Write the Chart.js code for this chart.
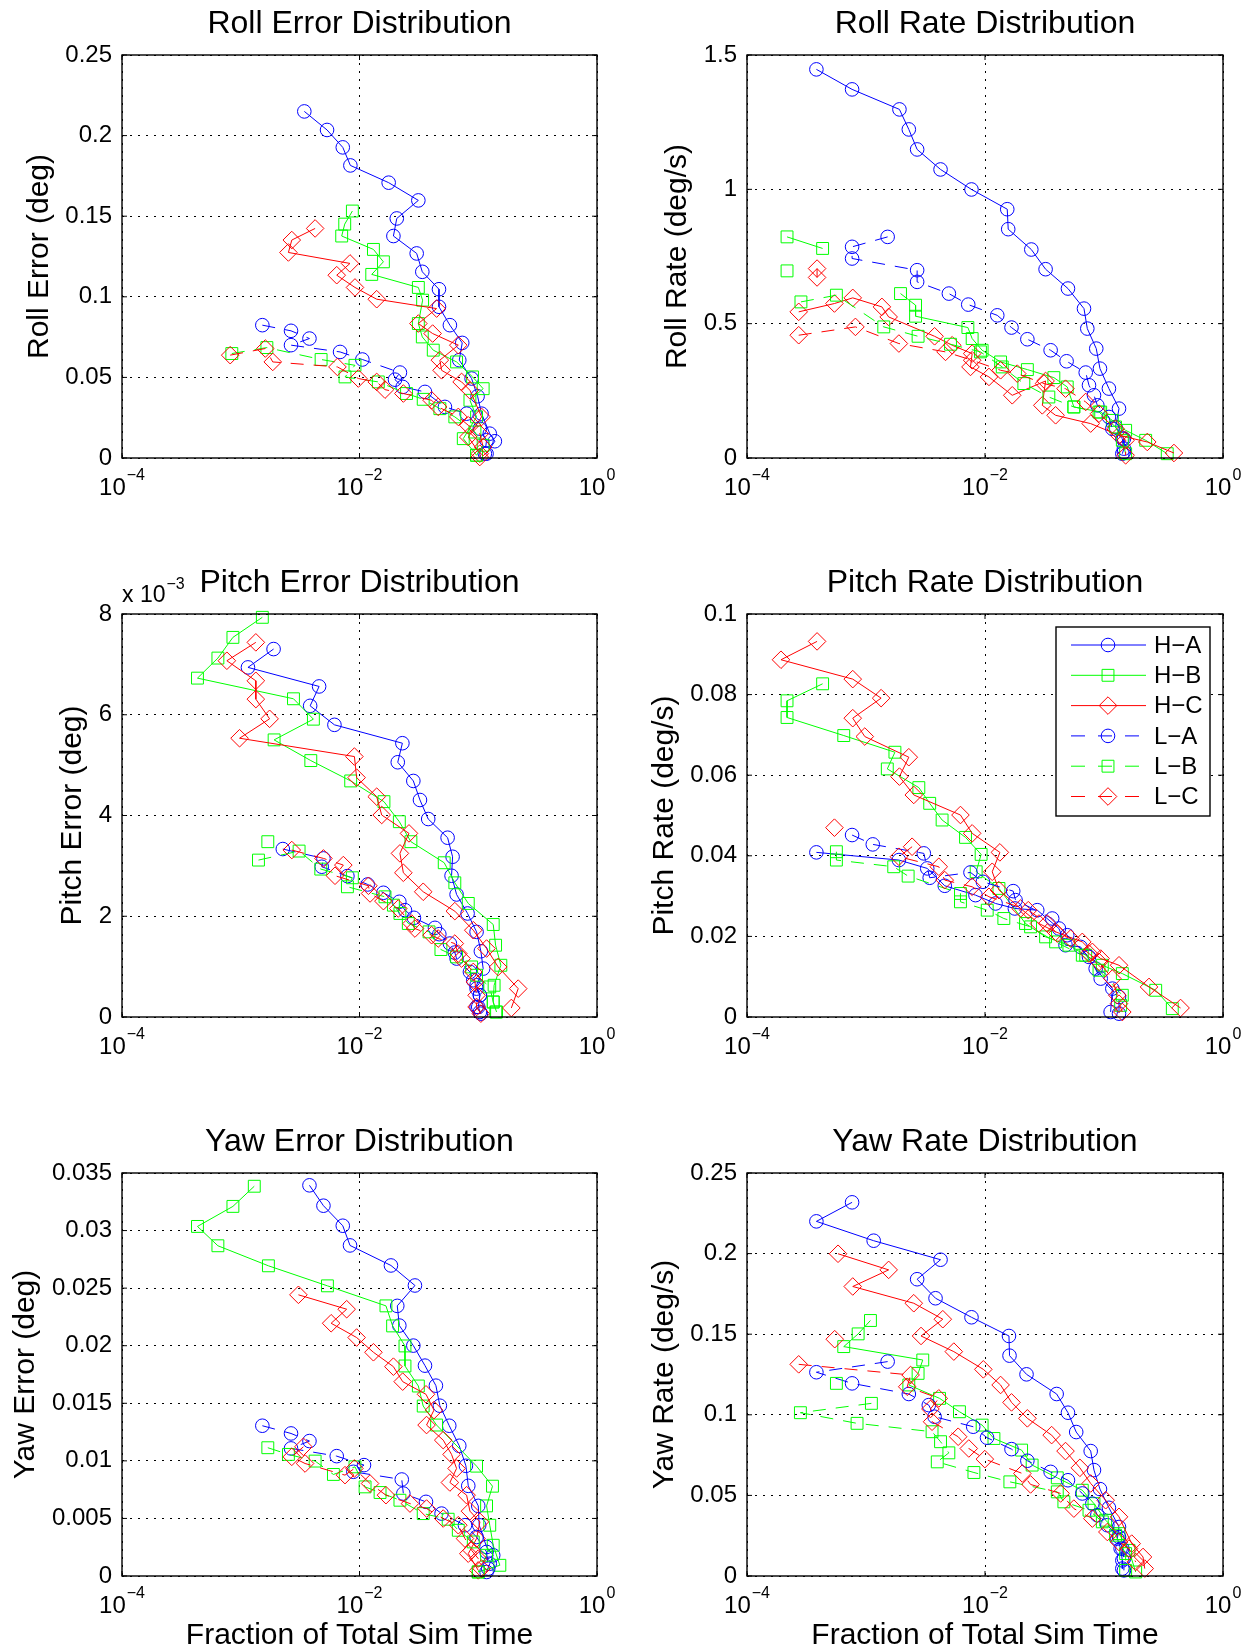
<!DOCTYPE html>
<html>
<head>
<meta charset="utf-8">
<script src="https://cdn.jsdelivr.net/npm/chart.js@4.4.1/dist/chart.umd.min.js"></script>
<style>
  body { margin: 0; background: #fff; }
  #wrap { position: relative; width: 1252px; height: 1652px; overflow: hidden; }
  #wrap canvas { position: absolute; }
</style>
</head>
<body>
<div id="wrap"></div>
<script>
// series: [fraction of sim time, value]; null = break in the line
const seriesNames = ['H\u2212A', 'H\u2212B', 'H\u2212C', 'L\u2212A', 'L\u2212B', 'L\u2212C'];
const xTicks = [1e-4, 1e-2, 1];

const rollErrTicks = [0, 0.05, 0.1, 0.15, 0.2, 0.25];
const rollRateTicks = [0, 0.5, 1, 1.5];
const pitchErrTicks = [0, 2, 4, 6, 8];          // x 10^-3
const pitchRateTicks = [0, 0.02, 0.04, 0.06, 0.08, 0.1];
const yawErrTicks = [0, 0.005, 0.01, 0.015, 0.02, 0.025, 0.03, 0.035];
const yawRateTicks = [0, 0.05, 0.1, 0.15, 0.2, 0.25];

// Roll error (deg)
const rollErrHA = [[3.43e-3,0.215],[5.33e-3,0.2035],[7.23e-3,0.1927],[8.38e-3,0.1815],[0.0176,0.1708],[0.0313,0.1598],[0.0206,0.1486],[0.0193,0.1377],[0.0303,0.1269],[0.0338,0.1155],[0.0467,0.1047],[0.0467,0.0938],[0.0577,0.0824],[0.0733,0.0714],[0.0692,0.0607],[0.0879,0.0493],[0.0987,0.0383],[0.1067,0.0275],[0.125,0.0151],[0.138,0.0104],[0.1175,0.0027]];
const rollErrHB = [[8.71e-3,0.1532],[7.51e-3,0.1451],[7.08e-3,0.1377],[0.0131,0.1294],[0.0159,0.1217],[0.01268,0.1139],[0.0313,0.1058],[0.034,0.0979],[0.0313,0.0834],[0.0338,0.0751],[0.0418,0.0669],[0.0657,0.0596],[0.0896,0.0503],[0.110,0.043],[0.0851,0.0358],[0.0968,0.0255],[0.0748,0.012],[0.0968,0.0017]];
const rollErrHC = [[4.23e-3,0.1424],[2.69e-3,0.1352],[2.52e-3,0.1275],[8.32e-3,0.1207],[6.43e-3,0.1134],[9.16e-3,0.1058],[0.01396,0.0985],[0.0446,0.0927],[0.0313,0.0834],[0.0413,0.0772],[0.0679,0.07],[0.0475,0.0607],[0.0491,0.0544],[0.0724,0.0472],[0.0851,0.042],[0.1067,0.0255],[0.0824,0.013],[0.103,0.0027]];
const rollErrLA = [[1.52e-3,0.0824],[2.65e-3,0.0789],[3.79e-3,0.0741],[2.65e-3,0.07],[6.86e-3,0.0658],[0.01057,0.0611],[0.0219,0.053],[0.0199,0.0486],[0.0231,0.0441],[0.0356,0.041],[0.0524,0.0317],[0.0798,0.0275],[0.103,0.0182],[0.1175,0.011],[0.1137,0.0027]];
const rollErrLB = [[8.41e-4,0.0648],[1.66e-3,0.0685],[4.75e-3,0.0611],[9.16e-3,0.0575],[7.55e-3,0.0503],[0.0144,0.0472],[0.0249,0.04],[0.0344,0.0364],[0.0475,0.0306],[0.0635,0.0255],[0.0938,0.0161],[0.110,0.0079],[0.0968,0.0017]];
const rollErrLC = [[8.15e-4,0.0638],[1.61e-3,0.0679],[1.86e-3,0.0596],[6.52e-3,0.0565],[9.78e-3,0.0493],[0.01396,0.0472],[0.0164,0.0424],[0.0234,0.04],[0.0405,0.0358],[0.046,0.0317],[0.0679,0.0255],[0.0824,0.0203],[0.103,0.0151],[0.110,0.0068],[0.103,0.0006]];

// Roll rate (deg/s)
const rollRateHA = [[3.83e-4,1.4465],[7.64e-4,1.372],[1.91e-3,1.2975],[2.29e-3,1.223],[2.69e-3,1.1485],[4.23e-3,1.074],[7.7e-3,0.9995],[0.01538,0.926],[0.01567,0.8517],[0.0245,0.776],[0.0323,0.7027],[0.0498,0.6307],[0.0679,0.556],[0.0724,0.4817],[0.0861,0.4072],[0.0925,0.3327],[0.110,0.2583],[0.1337,0.1838],[0.125,0.1155],[0.147,0.072],[0.147,0.0348],[0.1426,0.016]];
const rollRateHB = [[2.17e-4,0.823],[4.32e-4,0.78],null,[1.95e-3,0.612],[2.61e-3,0.5687],[2.61e-3,0.5277],[7.18e-3,0.4855],[7.8e-3,0.4445],[9.46e-3,0.401],[0.01352,0.3576],[0.0227,0.329],[0.0379,0.2992],[0.0491,0.2645],[0.0558,0.19],[0.0938,0.171],[0.1175,0.14],[0.152,0.103],[0.224,0.0658],[0.34,0.016]];
const rollRateHC = [[2.72e-4,0.544],[5.43e-4,0.575],[7.74e-4,0.596],[1.36e-3,0.5625],[1.55e-3,0.525],[3.77e-3,0.453],[5.3e-3,0.4197],[7.8e-3,0.3886],[7.55e-3,0.339],[0.0108,0.3017],[0.01694,0.2334],[0.0323,0.2868],[0.0303,0.196],[0.0392,0.159],[0.0773,0.128],[0.1337,0.0844],[0.231,0.0596],[0.387,0.0186]];
const rollRateLA = [[1.52e-3,0.823],[7.64e-4,0.786],[7.64e-4,0.7425],[2.69e-3,0.699],[2.69e-3,0.6556],[4.97e-3,0.612],[7.23e-3,0.571],[0.01268,0.531],[0.0167,0.4855],[0.0227,0.442],[0.0356,0.401],[0.0485,0.36],[0.0702,0.318],[0.0748,0.2707],[0.0824,0.2334],[0.0879,0.196],[0.110,0.1527],[0.1175,0.109],[0.1426,0.072],[0.147,0.0223]];
const rollRateLB = [[2.17e-4,0.6965],null,[2.84e-4,0.581],[5.64e-4,0.606],[1.41e-3,0.488],[2.74e-3,0.453],[5.13e-3,0.4234],[9.16e-3,0.395],[0.01396,0.339],[0.0212,0.277],[0.0344,0.227],[0.0558,0.19],[0.0908,0.171],[0.125,0.1155],[0.1426,0.0658],[0.152,0.016]];
const rollRateLC = [[3.88e-4,0.705],[3.88e-4,0.672],null,[2.72e-4,0.457],[8.15e-4,0.488],[1.89e-3,0.426],[4.66e-3,0.395],[7.8e-3,0.3638],[0.01352,0.3265],[0.01866,0.314],[0.0313,0.277],[0.0475,0.258],[0.0702,0.2086],[0.0908,0.165],[0.125,0.109],[0.152,0.0658],[0.152,0.01]];

// Pitch error (deg x 10^-3)
const pitchErrHA = [[1.89e-3,7.304],[1.15e-3,6.94],[4.57e-3,6.562],[3.84e-3,6.177],[6.15e-3,5.80],[0.02297,5.435],[0.0210,5.057],[0.0284,4.686],[0.0323,4.308],[0.0379,3.93],[0.0552,3.559],[0.0608,3.181],[0.0596,2.804],[0.0657,2.432],[0.0813,2.055],[0.0968,1.69],[0.1052,1.306],[0.110,0.961],[0.0968,0.63],[0.1033,0.431],[0.1,0.199],[0.1052,0.066]];
const pitchErrHB = [[1.52e-3,7.934],[8.59e-4,7.536],[6.42e-4,7.125],[4.32e-4,6.727],[2.78e-3,6.317],[4.09e-3,5.912],[1.91e-3,5.501],[3.89e-3,5.09],[8.43e-3,4.686],[0.01607,4.275],[0.02165,3.877],[0.0271,3.48],[0.0517,3.062],[0.0635,2.664],[0.0824,2.254],[0.1337,1.836],[0.140,1.425],[0.155,1.027],[0.136,0.63],[0.1337,0.298],[0.1426,0.0994]];
const pitchErrHC = [[1.34e-3,7.437],[7.64e-4,7.072],[1.34e-3,6.674],[1.34e-3,6.31],[1.75e-3,5.919],[9.77e-4,5.534],[9.06e-3,5.17],[9.46e-3,4.752],[0.01396,4.374],[0.01538,4.01],[0.0261,3.645],[0.0219,3.248],[0.0234,2.863],[0.0344,2.486],[0.0635,2.101],[0.0908,1.723],[0.1175,1.359],[0.147,0.994],[0.217,0.563],[0.19,0.179]];
const pitchErrLA = [[2.26e-3,3.334],[4.97e-3,3.148],[4.81e-3,2.983],[7.91e-3,2.797],[0.01172,2.631],[0.0159,2.466],[0.02165,2.287],[0.02415,2.121],[0.02874,1.969],[0.0432,1.77],[0.0470,1.644],[0.0577,1.458],[0.0635,1.279],[0.0657,1.16],[0.0851,0.895],[0.0908,0.729],[0.0968,0.563],[0.1033,0.431],[0.0968,0.199],[0.1033,0.0994]];
const pitchErrLB = [[1.69e-3,3.48],null,[1.41e-3,3.115],[3.10e-3,3.294],[4.72e-3,2.936],[8.71e-3,2.764],[7.91e-3,2.585],[0.0164,2.386],[0.0193,2.22],[0.0219,2.055],[0.02576,1.856],[0.0385,1.69],[0.0485,1.339],[0.0657,1.193],[0.0879,0.994],[0.0968,0.829],[0.125,0.597],[0.1337,0.298],[0.1406,0.0994]];
const pitchErrLC = [[2.69e-3,3.314],[4.97e-3,3.148],[7.31e-3,3.016],[6.22e-3,2.804],[0.01189,2.605],[0.01227,2.452],[0.0159,2.3],[0.0212,2.154],[0.02748,1.856],[0.0293,1.756],[0.0405,1.624],[0.046,1.558],[0.0635,1.458],[0.0679,1.259],[0.0724,1.16],[0.0908,0.895],[0.0938,0.696],[0.0968,0.431],[0.0968,0.199],[0.1052,0.066]];

// Pitch rate (deg/s)
const pitchRateHA = [[3.83e-4,0.04085],[1.89e-3,0.03894],[3.27e-3,0.03687],[4.59e-3,0.03256],[8.32e-3,0.03024],[0.01227,0.02817],[0.01782,0.02693],[0.02748,0.02651],[0.0418,0.02196],[0.0475,0.01781],[0.0635,0.0174],[0.0851,0.01201],[0.1175,0.00704],[0.1137,0.00124]];
const pitchRateHB = [[4.32e-4,0.08268],[2.17e-4,0.07846],[2.17e-4,0.07432],[6.5e-4,0.06984],[1.75e-3,0.0657],[1.51e-3,0.06156],[2.78e-3,0.05692],[3.43e-3,0.05302],[4.36e-3,0.04888],[6.86e-3,0.04457],[9.28e-3,0.04035],[8.43e-3,0.03604],[0.0131,0.0319],[0.0219,0.0232],[0.0323,0.01988],[0.0507,0.01781],[0.0702,0.01533],[0.0968,0.01284],[0.1426,0.01077],[0.272,0.00663],[0.375,0.00207]];
const pitchRateHC = [[3.88e-4,0.0932],[1.93e-4,0.08865],[7.74e-4,0.08384],[1.34e-3,0.07912],[7.74e-4,0.07415],[9.77e-4,0.06959],[2.29e-3,0.06446],[1.91e-3,0.05965],[2.52e-3,0.0551],[6.22e-3,0.05012],[7.8e-3,0.04557],[0.01334,0.04085],[0.0115,0.03604],[0.0131,0.03148],[0.0199,0.02693],[0.0284,0.0232],[0.0392,0.02113],[0.0657,0.01864],[0.0798,0.01616],[0.0938,0.0145],[0.1337,0.01284],[0.239,0.00746],[0.44,0.00224]];
const pitchRateLA = [[7.64e-4,0.04515],[1.14e-3,0.04283],[3.06e-3,0.0406],[3.43e-3,0.03455],[7.55e-3,0.03587],[9.6e-3,0.03355],[0.01726,0.03123],[0.01806,0.029],[0.0367,0.02444],[0.0491,0.0203],[0.0748,0.01491],[0.0938,0.00953],[0.1337,0.00497],[0.1337,0.00083]];
const pitchRateLB = [[5.64e-4,0.04101],[5.64e-4,0.03894],[1.71e-3,0.03728],[2.26e-3,0.03496],[6.22e-3,0.03065],[6.22e-3,0.02858],[0.01044,0.02651],[0.0144,0.02444],[0.02415,0.02237],[0.0392,0.01864],[0.0657,0.01533],[0.0908,0.0116],[0.1426,0.00539],[0.138,0.0029]];
const pitchRateLC = [[5.43e-4,0.04698],null,[2.44e-3,0.04225],[1.89e-3,0.03977],[4.09e-3,0.03728],[4.59e-3,0.03397],[7.8e-3,0.03231],[0.0108,0.02983],[0.0231,0.02651],[0.0333,0.0232],[0.0405,0.02071],[0.0524,0.01947],[0.0748,0.01574],[0.0908,0.01367],[0.1175,0.00953],[0.1294,0.00539],[0.1337,0.00331],[0.1426,0.00124]];

// Yaw error (deg)
const yawErrHA = [[3.79e-3,0.03393],[4.97e-3,0.03216],[7.23e-3,0.03042],[8.32e-3,0.02871],[0.0184,0.02697],[0.0293,0.02523],[0.0208,0.02346],[0.02165,0.02175],[0.0284,0.02001],[0.0356,0.01827],[0.044,0.01653],[0.0475,0.01479],[0.057,0.01305],[0.0692,0.01131],[0.0787,0.00957],[0.0824,0.00783],[0.1,0.00609],[0.1019,0.00441],[0.1175,0.00252],[0.1337,0.0018],[0.125,0.00107],[0.1175,0.00035]];
const yawErrHB = [[1.3e-3,0.03385],[8.59e-4,0.0321],[4.32e-4,0.03036],[6.42e-4,0.02868],[1.71e-3,0.02694],[5.37e-3,0.0252],[0.0167,0.02346],[0.019,0.02172],[0.02415,0.01998],[0.02415,0.01824],[0.0313,0.0165],[0.0344,0.01476],[0.0446,0.01311],[0.0968,0.00954],[0.1318,0.0078],[0.1175,0.00609],[0.125,0.00441],[0.1337,0.00267],[0.152,0.00093],[0.1,0.00035]];
const yawErrHC = [[3.06e-3,0.02442],[7.8e-3,0.02317],[5.77e-3,0.02195],[9.46e-3,0.02071],[0.0131,0.01943],[0.0193,0.01818],[0.0231,0.01688],[0.0363,0.01578],[0.0424,0.01441],[0.0367,0.01311],[0.0507,0.0118],[0.0596,0.01056],[0.0657,0.00934],[0.0577,0.00812],[0.0798,0.00702],[0.0851,0.00563],[0.1033,0.0047],[0.0968,0.00325],[0.0824,0.00194],[0.1,0.00049]];
const yawErrLA = [[1.52e-3,0.01305],[2.65e-3,0.01238],[3.79e-3,0.01172],[2.65e-3,0.01108],[6.43e-3,0.01041],[0.01091,0.00963],[8.88e-3,0.00905],[0.0227,0.00838],[0.0234,0.00716],[0.0363,0.00644],[0.0491,0.00542],[0.0773,0.00441],[0.0968,0.00339],[0.1175,0.00209],[0.1214,0.00064]];
const yawErrLB = [[1.69e-3,0.01114],[2.52e-3,0.01056],[4.23e-3,0.00998],[6.03e-3,0.00882],[9.16e-3,0.00948],[0.01114,0.00774],[0.0149,0.00725],[0.0219,0.00658],[0.0344,0.00542],[0.0558,0.00493],[0.0679,0.00397],[0.0908,0.00296],[0.1175,0.0018],[0.1,0.00035]];
const yawErrLC = [[3.37e-3,0.01122],[2.69e-3,0.01035],[3.48e-3,0.00977],[7.55e-3,0.00876],[9.06e-3,0.00934],[0.01227,0.00803],[0.0167,0.00702],[0.0266,0.00629],[0.0367,0.00586],[0.0507,0.00499],[0.0679,0.00441],[0.0773,0.00325],[0.0879,0.00223],[0.1,0.00151],[0.1067,0.00064]];

// Yaw rate (deg/s)
const yawRateHA = [[7.64e-4,0.2318],[3.83e-4,0.22],[1.16e-3,0.208],[4.23e-3,0.1962],[2.69e-3,0.1841],[3.84e-3,0.1723],[7.7e-3,0.1605],[0.0159,0.1489],[0.01607,0.1367],[0.02233,0.1251],[0.04,0.1129],[0.0498,0.1013],[0.0584,0.0893],[0.0773,0.0775],[0.0824,0.0657],[0.0925,0.0539],[0.110,0.0423],[0.1337,0.0304],[0.1294,0.0232],[0.138,0.017],[0.1426,0.0097],[0.1426,0.0046]];
const yawRateHB = [[1.09e-3,0.1585],[8.59e-4,0.1502],[6.5e-4,0.1423],[3.0e-3,0.134],[2.74e-3,0.1257],[2.29e-3,0.1185],[4.15e-3,0.1102],[6.1e-3,0.1019],[9.46e-3,0.0936],[0.01189,0.0853],[0.0203,0.0781],[0.0249,0.0688],[0.0405,0.0609],[0.0657,0.0532],[0.0824,0.0449],[0.1033,0.0346],[0.1337,0.0263],[0.162,0.0159],[0.1846,0.0025]];
const yawRateHC = [[5.82e-4,0.1999],[1.55e-3,0.1899],[7.74e-4,0.1796],[2.52e-3,0.1692],[4.42e-3,0.1593],[2.9e-3,0.1489],[5.47e-3,0.1392],[9.68e-3,0.1282],[0.01352,0.1185],[0.0167,0.1077],[0.0227,0.0978],[0.0363,0.0874],[0.0475,0.0775],[0.0627,0.0671],[0.0773,0.0574],[0.1033,0.047],[0.1337,0.0367],[0.171,0.0201],[0.2128,0.0118],[0.22,0.0046]];
const yawRateLA = [[1.52e-3,0.133],[3.83e-4,0.1264],[7.64e-4,0.1195],[2.29e-3,0.1129],[3.37e-3,0.106],[3.77e-3,0.0988],[7.96e-3,0.0926],[0.0104,0.0858],[0.0167,0.0787],[0.0227,0.0715],[0.0356,0.0646],[0.0498,0.0594],[0.0657,0.0512],[0.0798,0.0449],[0.0879,0.0377],[0.1067,0.0315],[0.1337,0.0242],[0.1426,0.017],[0.147,0.0108],[0.147,0.0035]];
const yawRateLB = [[5.64e-4,0.1195],null,[1.11e-3,0.1071],[2.81e-4,0.1013],[8.41e-4,0.0947],[3.59e-3,0.0895],[4.23e-3,0.0833],[4.97e-3,0.0764],[3.97e-3,0.0708],[8.07e-3,0.0642],[0.01618,0.0584],[0.0405,0.0522],[0.046,0.046],[0.0748,0.0408],[0.0968,0.0336],[0.125,0.0253],[0.152,0.0139],[0.152,0.0035]];
const yawRateLC = [[5.46e-4,0.1469],null,[2.72e-4,0.1313],[2.37e-3,0.1247],[2.22e-3,0.1174],[4.09e-3,0.1102],[3.48e-3,0.1036],[3.59e-3,0.0957],[5.95e-3,0.0864],[7.31e-3,0.0791],[9.97e-3,0.0725],[0.0206,0.0636],[0.02415,0.0568],[0.0432,0.0512],[0.0558,0.0418],[0.0798,0.0356],[0.1067,0.0273],[0.1337,0.0211],[0.162,0.017],[0.1846,0.0087]];

const panels = [
  { title: 'Roll Error Distribution', yLabel: 'Roll Error (deg)', yTicks: rollErrTicks, col: 0, row: 0, labelPad: 21.5,
    series: [rollErrHA, rollErrHB, rollErrHC, rollErrLA, rollErrLB, rollErrLC] },
  { title: 'Roll Rate Distribution', yLabel: 'Roll Rate (deg/s)', yTicks: rollRateTicks, col: 1, row: 0, labelPad: 34.5,
    series: [rollRateHA, rollRateHB, rollRateHC, rollRateLA, rollRateLB, rollRateLC] },
  { title: 'Pitch Error Distribution', yLabel: 'Pitch Error (deg)', yTicks: pitchErrTicks, col: 0, row: 1, labelPad: 54.5, expLabel: -3,
    series: [pitchErrHA, pitchErrHB, pitchErrHC, pitchErrLA, pitchErrLB, pitchErrLC] },
  { title: 'Pitch Rate Distribution', yLabel: 'Pitch Rate (deg/s)', yTicks: pitchRateTicks, col: 1, row: 1, labelPad: 22, legend: true,
    series: [pitchRateHA, pitchRateHB, pitchRateHC, pitchRateLA, pitchRateLB, pitchRateLC] },
  { title: 'Yaw Error Distribution', yLabel: 'Yaw Error (deg)', yTicks: yawErrTicks, col: 0, row: 2, labelPad: 8,
    series: [yawErrHA, yawErrHB, yawErrHC, yawErrLA, yawErrLB, yawErrLC] },
  { title: 'Yaw Rate Distribution', yLabel: 'Yaw Rate (deg/s)', yTicks: yawRateTicks, col: 1, row: 2, labelPad: 22,
    series: [yawRateHA, yawRateHB, yawRateHC, yawRateLA, yawRateLB, yawRateLC] }
];

const colors = ['#0000ff', '#00ff00', '#ff0000', '#0000ff', '#00ff00', '#ff0000'];
const markers = ['circle', 'rect', 'rectRot', 'circle', 'rect', 'rectRot'];
const markerRadius = { circle: 6.8, rect: 8.4, rectRot: 8.8 };
const dashPattern = [13, 10];
const fam = "'Liberation Sans', Arial, Helvetica, sans-serif";

Chart.defaults.font.family = fam;
Chart.defaults.color = '#000';

// plot area positions on the page
const colLeft = [122, 747], colWidth = [625, 627];
const rowTop = [55, 614, 1173];
const plotH = 403;

function toPoints(arr) {
  return arr.map((p, i) => p ? { x: p[0], y: p[1] } : { x: arr[i - 1][0], y: null });
}

function drawMarker(ctx, style, x, y) {
  const r = markerRadius[style];
  ctx.beginPath();
  if (style === 'circle') {
    ctx.arc(x, y, r, 0, Math.PI * 2);
  } else if (style === 'rect') {
    const h = r * Math.SQRT1_2;
    ctx.rect(x - h, y - h, 2 * h, 2 * h);
  } else {
    ctx.moveTo(x - r, y); ctx.lineTo(x, y - r); ctx.lineTo(x + r, y); ctx.lineTo(x, y + r); ctx.closePath();
  }
  ctx.stroke();
}

// box, inward ticks, 10^n labels, exponent note and legend
function framePlugin(panel) {
  return {
    id: 'frame',
    afterDraw(chart) {
      const ctx = chart.ctx, a = chart.chartArea;
      const xs = chart.scales.x, ys = chart.scales.y;
      ctx.save();
      ctx.strokeStyle = '#000';
      ctx.lineWidth = 1;
      ctx.beginPath();
      panel.yTicks.forEach(v => {
        const y = ys.getPixelForValue(v);
        ctx.moveTo(a.left, y); ctx.lineTo(a.left + 5, y);
        ctx.moveTo(a.right, y); ctx.lineTo(a.right - 5, y);
      });
      xTicks.forEach(v => {
        const x = xs.getPixelForValue(v);
        ctx.moveTo(x, a.bottom); ctx.lineTo(x, a.bottom - 5);
        ctx.moveTo(x, a.top); ctx.lineTo(x, a.top + 5);
      });
      ctx.stroke();
      ctx.lineWidth = 1.4;
      ctx.strokeRect(a.left, a.top, a.right - a.left, a.bottom - a.top);

      ctx.fillStyle = '#000';
      ctx.textAlign = 'left';
      ctx.textBaseline = 'alphabetic';
      xTicks.forEach(v => {
        const px = xs.getPixelForValue(v);
        const e = Math.round(Math.log10(v));
        const sup = e < 0 ? '\u2212' + (-e) : String(e);
        ctx.font = '24px ' + fam;
        const w1 = ctx.measureText('10').width;
        ctx.font = '16px ' + fam;
        const w2 = ctx.measureText(sup).width;
        const x0 = px - (w1 + w2 + 1) / 2;
        ctx.font = '24px ' + fam;
        ctx.fillText('10', x0, a.bottom + 37);
        ctx.font = '16px ' + fam;
        ctx.fillText(sup, x0 + w1 + 1, a.bottom + 22);
      });

      if (panel.expLabel) {
        ctx.font = '23px ' + fam;
        const w = ctx.measureText('x 10').width;
        ctx.fillText('x 10', a.left, a.top - 12);
        ctx.font = '16px ' + fam;
        ctx.fillText('\u2212' + (-panel.expLabel), a.left + w + 1, a.top - 25);
      }

      if (panel.legend) {
        const bw = 154, bh = 189;
        const bx = a.right - 13 - bw, by = a.top + 13;
        ctx.fillStyle = '#fff';
        ctx.fillRect(bx, by, bw, bh);
        ctx.lineWidth = 1.4;
        ctx.strokeRect(bx, by, bw, bh);
        ctx.lineWidth = 1;
        chart.data.datasets.forEach((ds, i) => {
          const cy = by + 18 + i * 30.3;
          ctx.strokeStyle = ds.borderColor;
          ctx.setLineDash(ds.borderDash.length ? [14, 13] : []);
          ctx.beginPath();
          ctx.moveTo(bx + 15, cy); ctx.lineTo(bx + 90, cy);
          ctx.stroke();
          ctx.setLineDash([]);
          drawMarker(ctx, ds.pointStyle, bx + 52, cy);
          ctx.fillStyle = '#000';
          ctx.font = '24px ' + fam;
          ctx.textBaseline = 'middle';
          ctx.fillText(ds.label, bx + 98, cy + 1);
        });
      }
      ctx.restore();
    }
  };
}

const wrap = document.getElementById('wrap');

panels.forEach(panel => {
  const canvas = document.createElement('canvas');
  const left = colLeft[panel.col] - 122;
  const top = rowTop[panel.row] - 55;
  const bottomSpace = panel.row === 2 ? 80 : 58;
  const w = colWidth[panel.col];
  const h = 55 + plotH + bottomSpace;
  canvas.width = w; canvas.height = h;
  canvas.style.left = left + 'px'; canvas.style.top = top + 'px';
  canvas.style.width = w + 'px'; canvas.style.height = h + 'px';
  wrap.appendChild(canvas);

  const datasets = panel.series.map((s, i) => ({
    label: seriesNames[i],
    data: toPoints(s),
    borderColor: colors[i],
    borderWidth: 1,
    borderDash: i >= 3 ? dashPattern : [],
    pointStyle: markers[i],
    pointRadius: markerRadius[markers[i]],
    pointBorderWidth: 1,
    pointBorderColor: colors[i],
    pointBackgroundColor: 'rgba(0,0,0,0)',
    fill: false,
    tension: 0,
    spanGaps: false,
    clip: false,
    order: 5 - i
  }));

  new Chart(canvas, {
    type: 'line',
    data: { datasets },
    options: {
      responsive: false,
      animation: false,
      devicePixelRatio: 1,
      layout: { padding: { left: 0, top: 0, bottom: 0, right: w - 122 - (panel.col === 0 ? 475 : 476) } },
      plugins: {
        legend: { display: false },
        tooltip: { enabled: false },
        title: {
          display: true,
          text: panel.title,
          fullSize: false,
          color: '#000',
          font: { size: 32, weight: 'normal' },
          padding: { top: 4.8, bottom: 11.8 }
        }
      },
      scales: {
        x: {
          type: 'logarithmic',
          min: 1e-4,
          max: 1,
          afterBuildTicks: s => { s.ticks = xTicks.map(v => ({ value: v })); },
          afterFit: s => { s.height = bottomSpace; },
          ticks: { display: false },
          grid: { color: '#000', lineWidth: 1, drawTicks: false },
          border: { display: false, dash: [2, 6] },
          title: {
            display: panel.row === 2,
            text: 'Fraction of Total Sim Time',
            color: '#000',
            font: { size: 30 },
            padding: { top: 0, bottom: 2 }
          }
        },
        y: {
          type: 'linear',
          min: panel.yTicks[0],
          max: panel.yTicks[panel.yTicks.length - 1],
          afterBuildTicks: s => { s.ticks = panel.yTicks.map(v => ({ value: v })); },
          afterFit: s => { s.width = 122; },
          ticks: {
            font: { size: 24 },
            color: '#000',
            padding: 10,
            callback: v => String(+Number(v).toFixed(4))
          },
          grid: { color: '#000', lineWidth: 1, drawTicks: false },
          border: { display: false, dash: [2, 6] },
          title: {
            display: true,
            text: panel.yLabel,
            color: '#000',
            font: { size: 30 },
            padding: { top: panel.labelPad, bottom: 0 }
          }
        }
      }
    },
    plugins: [framePlugin(panel)]
  });
});
</script>
</body>
</html>
